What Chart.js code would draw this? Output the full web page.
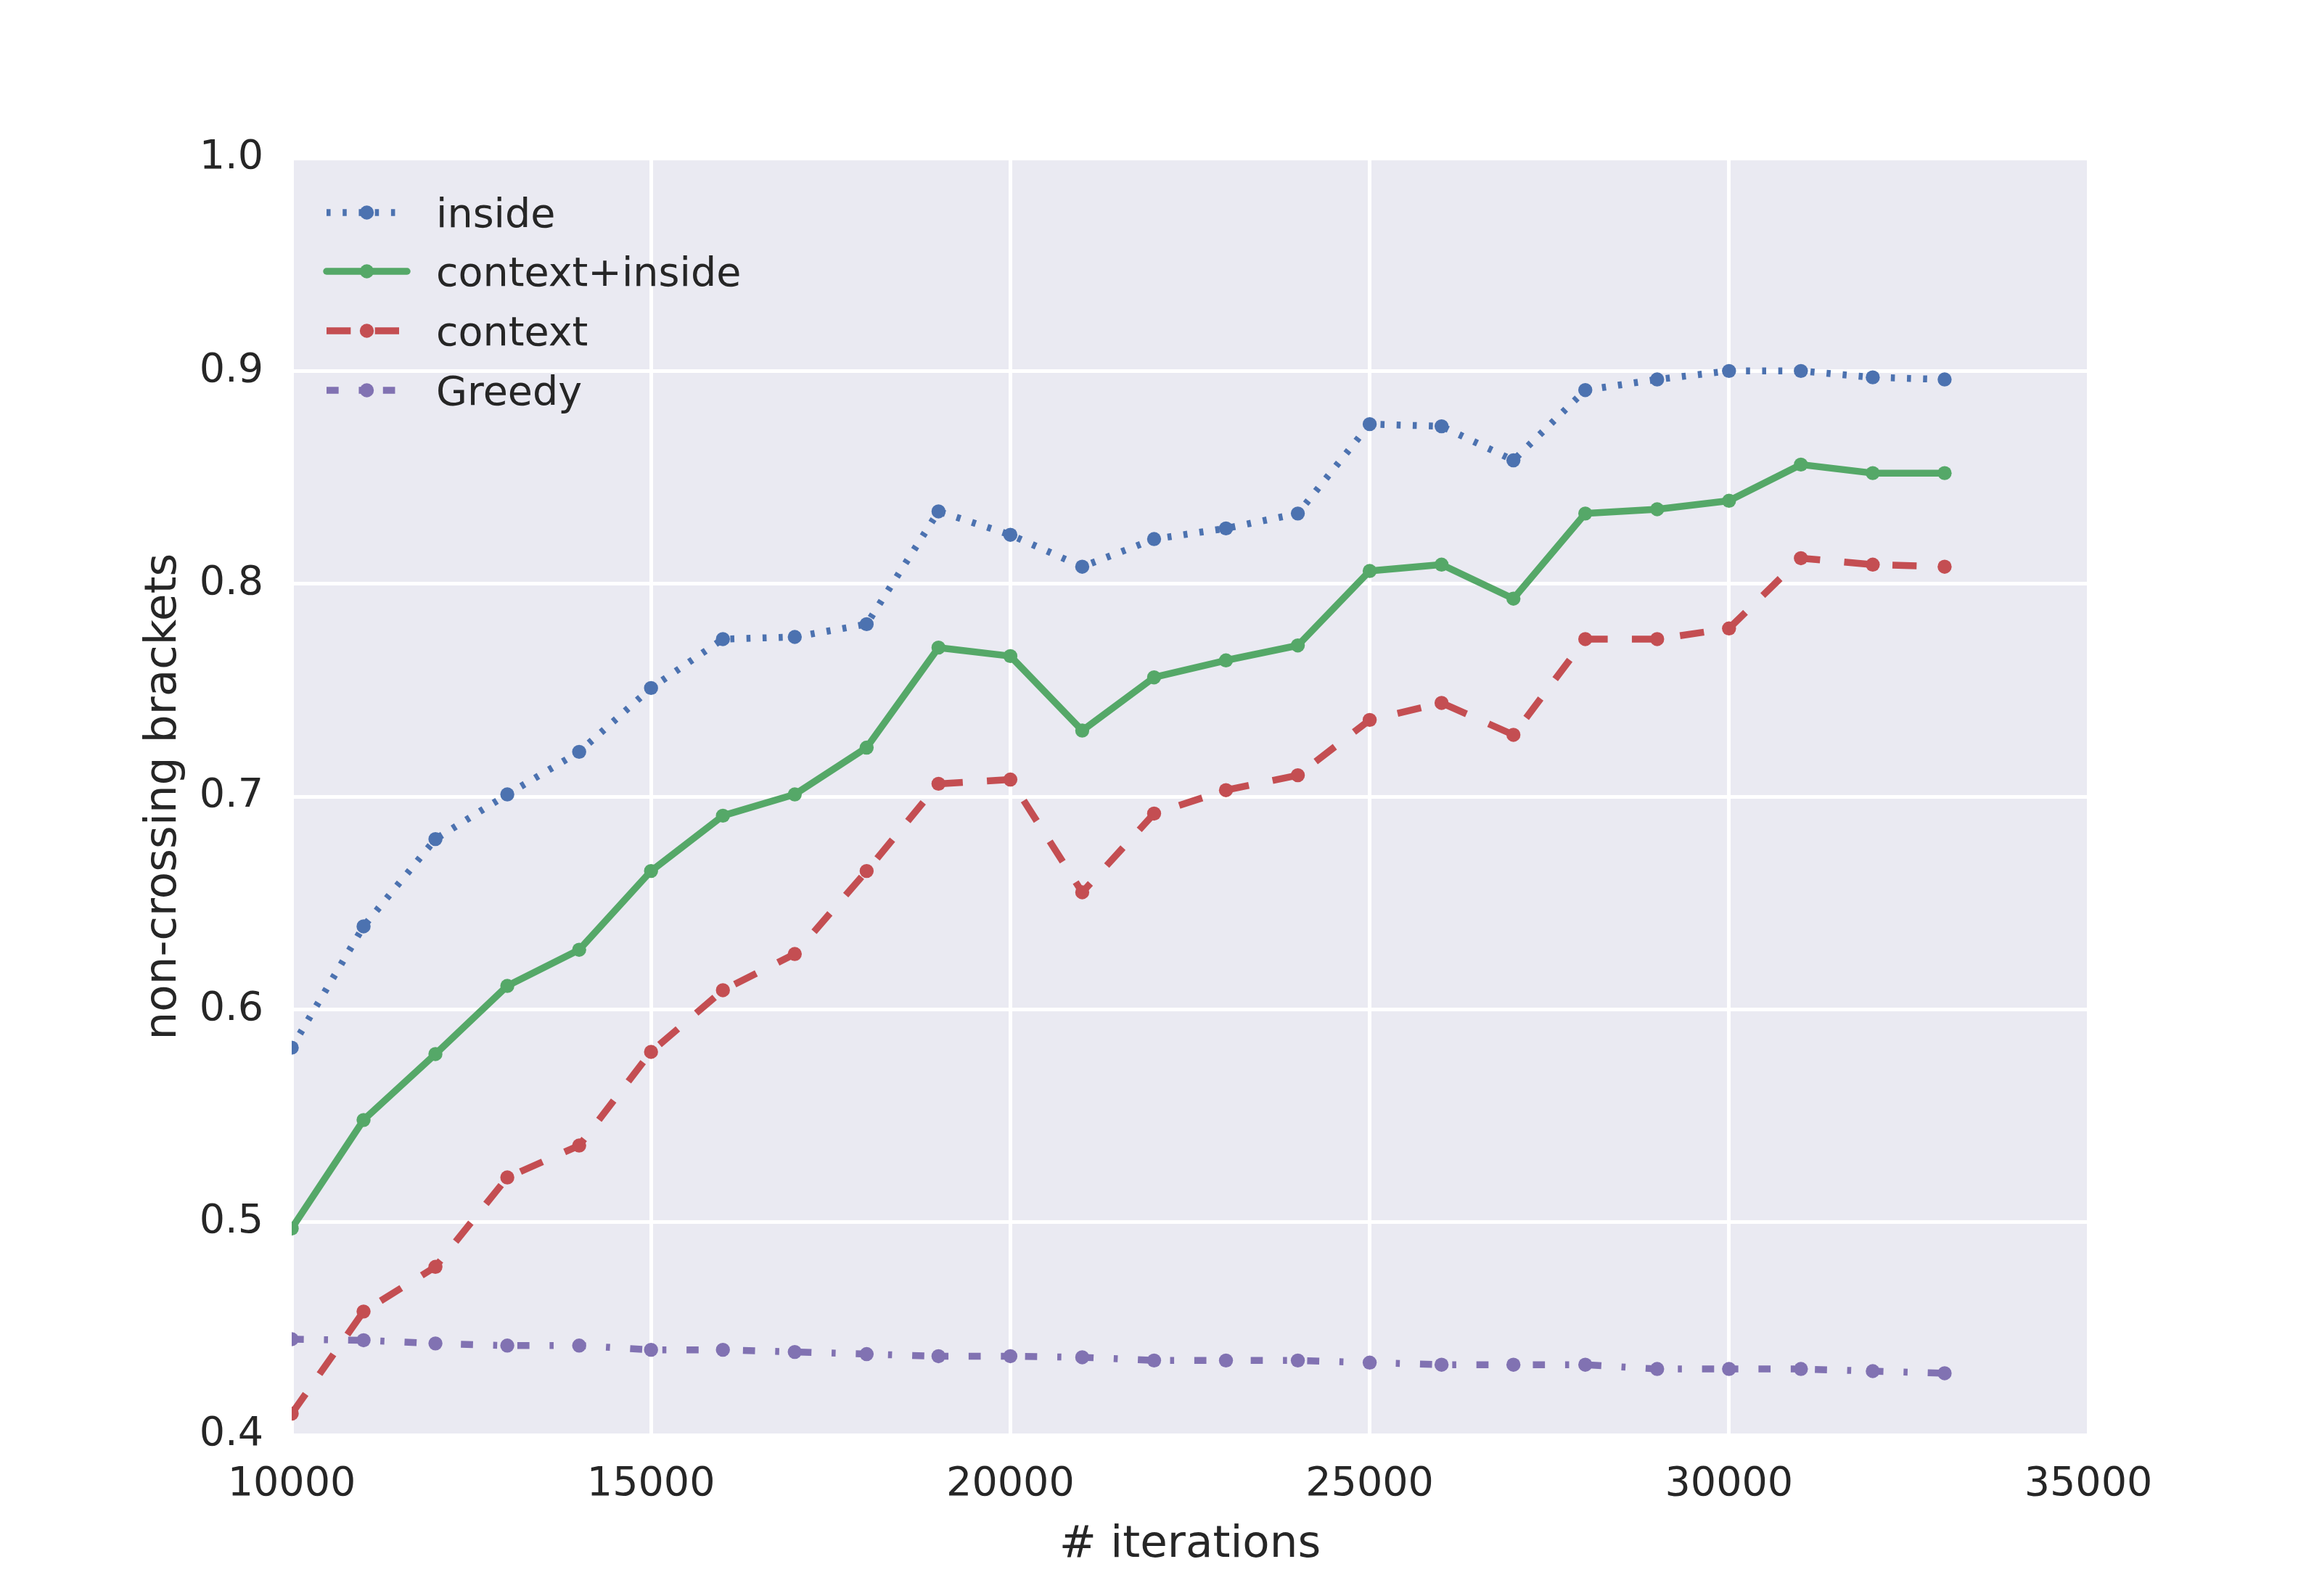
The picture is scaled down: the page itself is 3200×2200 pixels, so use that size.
<!DOCTYPE html>
<html>
<head>
<meta charset="utf-8">
<script src="https://cdn.jsdelivr.net/npm/chart.js@4/dist/chart.umd.min.js"></script>
<style>
  html, body { margin: 0; padding: 0; background: #fff; }
  #wrap { width: 3200px; height: 2200px; }
</style>
</head>
<body>
<div id="wrap"><canvas id="chart" width="3200" height="2200"></canvas></div>
<script>
// values
const iterations = [10000, 11000, 12000, 13000, 14000, 15000, 16000, 17000, 18000, 19000, 20000, 21000,
    22000, 23000, 24000, 25000, 26000, 27000, 28000, 29000, 30000, 31000, 32000, 33000];
const inside = [0.582, 0.639, 0.680, 0.701, 0.721, 0.751, 0.774, 0.775, 0.781, 0.834, 0.823, 0.808,
    0.821, 0.826, 0.833, 0.875, 0.874, 0.858, 0.891, 0.896, 0.900, 0.900, 0.897, 0.896];
const contextInside = [0.497, 0.548, 0.579, 0.611, 0.628, 0.665, 0.691, 0.701, 0.723, 0.770, 0.766, 0.731,
    0.756, 0.764, 0.771, 0.806, 0.809, 0.793, 0.833, 0.835, 0.839, 0.856, 0.852, 0.852];
const context = [0.410, 0.458, 0.479, 0.521, 0.536, 0.580, 0.609, 0.626, 0.665, 0.706, 0.708, 0.655,
    0.692, 0.703, 0.710, 0.736, 0.744, 0.729, 0.774, 0.774, 0.779, 0.812, 0.809, 0.808];
const greedy = [0.445, 0.4445, 0.443, 0.442, 0.442, 0.440, 0.440, 0.439, 0.438, 0.437, 0.437, 0.4365,
    0.435, 0.435, 0.435, 0.434, 0.433, 0.433, 0.433, 0.431, 0.431, 0.431, 0.430, 0.429];
const seriesNames = ['inside', 'context+inside', 'context', 'Greedy'];
const xTicks = { min: 10000, max: 35000, step: 5000 };
const yTicks = { min: 0.4, max: 1.0, step: 0.1 };

const FONT = '"DejaVu Sans", "Liberation Sans", sans-serif';
const TEXT = '#262626';
const PT = 400 / 72; // px per point at 400 dpi

const styles = [
    { color: '#4C72B0', dash: [1 * PT, 3 * PT], cap: 'butt' },
    { color: '#55A868', dash: [], cap: 'round' },
    { color: '#C44E52', dash: [6 * PT, 6 * PT], cap: 'butt' },
    { color: '#8172B2', dash: [3 * PT, 5 * PT, 1 * PT, 5 * PT], cap: 'butt' }
];
const allValues = [inside, contextInside, context, greedy];

const datasets = allValues.map((vals, i) => ({
    label: seriesNames[i],
    data: iterations.map((x, j) => ({ x: x, y: vals[j] })),
    borderColor: styles[i].color,
    backgroundColor: styles[i].color,
    borderWidth: 9.5,
    borderDash: styles[i].dash,
    borderCapStyle: styles[i].cap,
    borderJoinStyle: 'round',
    pointRadius: 9.7,
    pointBorderWidth: 0,
    pointHoverRadius: 9.7,
    tension: 0,
    fill: false,
    clip: 0,
    order: 4 - i
}));

// axes background
const plotBg = {
    id: 'plotBg',
    beforeDraw(chart) {
        const { ctx, chartArea: a } = chart;
        ctx.save();
        ctx.fillStyle = '#ffffff';
        ctx.fillRect(0, 0, chart.width, chart.height);
        ctx.fillStyle = '#EAEAF2';
        ctx.fillRect(a.left, a.top, a.right - a.left, a.bottom - a.top);
        ctx.restore();
    }
};

// matplotlib-like legend in upper left, no frame
const innerLegend = {
    id: 'innerLegend',
    afterDatasetsDraw(chart) {
        const ctx = chart.ctx;
        const x0 = 450, len = 111, rowY = [293, 374, 456, 538];
        ctx.save();
        chart.data.datasets.forEach((ds, i) => {
            const y = rowY[i];
            ctx.strokeStyle = ds.borderColor;
            ctx.lineWidth = ds.borderWidth;
            ctx.lineCap = ds.borderCapStyle;
            ctx.setLineDash(ds.borderDash);
            ctx.beginPath();
            ctx.moveTo(x0, y);
            ctx.lineTo(x0 + len, y);
            ctx.stroke();
            ctx.setLineDash([]);
            ctx.fillStyle = ds.borderColor;
            ctx.beginPath();
            ctx.arc(x0 + len / 2, y, ds.pointRadius, 0, Math.PI * 2);
            ctx.fill();
            ctx.fillStyle = TEXT;
            ctx.font = (10 * PT) + 'px ' + FONT;
            ctx.textAlign = 'left';
            ctx.textBaseline = 'alphabetic';
            ctx.fillText(ds.label, x0 + len + 40, y + 20);
        });
        ctx.restore();
    }
};

new Chart(document.getElementById('chart'), {
    type: 'line',
    data: { datasets: datasets },
    options: {
        responsive: false,
        animation: false,
        devicePixelRatio: 1,
        layout: { padding: { left: 0, right: 322, top: 218, bottom: 0 } },
        plugins: {
            legend: { display: false },
            tooltip: { enabled: false }
        },
        scales: {
            x: {
                type: 'linear',
                min: xTicks.min,
                max: xTicks.max,
                afterFit: (s) => { s.height = 222; },
                border: { display: false },
                grid: { color: '#ffffff', lineWidth: 5, drawTicks: false },
                ticks: {
                    stepSize: xTicks.step,
                    padding: 35,
                    maxRotation: 0,
                    color: TEXT,
                    font: { family: FONT, size: 10 * PT },
                    callback: (v) => String(v)
                },
                title: {
                    display: true,
                    text: '# iterations',
                    color: TEXT,
                    font: { family: FONT, size: 11 * PT },
                    padding: { top: 0, bottom: 33 }
                }
            },
            y: {
                min: yTicks.min,
                max: yTicks.max,
                afterFit: (s) => { s.width = 402; },
                border: { display: false },
                grid: { color: '#ffffff', lineWidth: 5, drawTicks: false },
                ticks: {
                    stepSize: yTicks.step,
                    padding: 39,
                    color: TEXT,
                    font: { family: FONT, size: 10 * PT },
                    callback: (v) => v.toFixed(1)
                },
                title: {
                    display: true,
                    text: 'non-crossing brackets',
                    color: TEXT,
                    font: { family: FONT, size: 11 * PT },
                    padding: { top: 189, bottom: 0 }
                }
            }
        }
    },
    plugins: [plotBg, innerLegend]
});
</script>
</body>
</html>
